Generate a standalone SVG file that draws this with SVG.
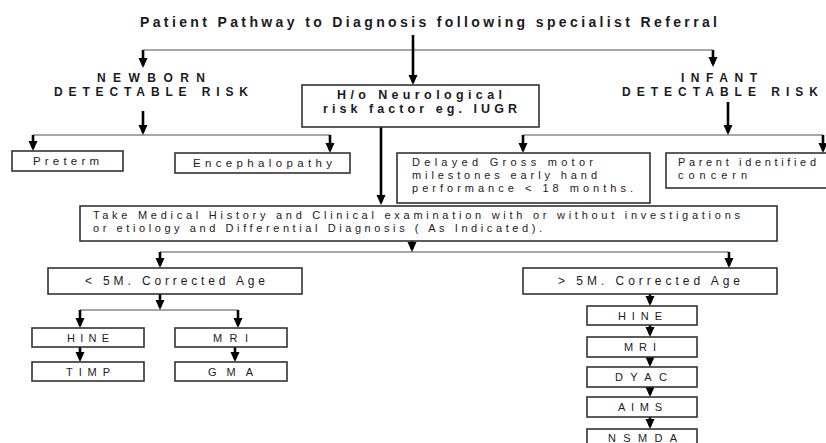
<svg xmlns="http://www.w3.org/2000/svg" width="826" height="443" viewBox="0 0 826 443">
<style>
  .t{font-family:"Liberation Sans",Arial,sans-serif;fill:#1a1a24}
  .b{font-weight:bold}
  .box{fill:#fff;stroke:#333;stroke-width:1.6}
  .arr{fill:none;stroke:#000;stroke-width:2.6}
  .hl{fill:none;stroke:#8a8a8a;stroke-width:1.6}
</style>
<defs>
  <marker id="ah" markerUnits="userSpaceOnUse" markerWidth="10" markerHeight="10" viewBox="0 0 10 10" refX="7" refY="5" orient="auto">
    <path d="M0,0.5 L10,5 L0,9.5 z" fill="#000"/>
  </marker>
</defs>
<rect width="826" height="443" fill="#fff"/>

<g id="title">
  <text class="t b" x="140" y="27" font-size="14" textLength="577" lengthAdjust="spacing">Patient Pathway to Diagnosis following specialist Referral</text>
</g>

<g id="connectors">
  <path class="hl" d="M143,50 H713"/>
  <path class="arr" d="M413,35 V82" marker-end="url(#ah)"/>
  <path class="arr" d="M143,50 V65" marker-end="url(#ah)"/>
  <path class="arr" d="M713,50 V64" marker-end="url(#ah)"/>

  <path class="hl" d="M33,135 H330"/>
  <path class="arr" d="M143,111 V132" marker-end="url(#ah)"/>
  <path class="arr" d="M33,135 V148" marker-end="url(#ah)"/>
  <path class="arr" d="M330,135 V150" marker-end="url(#ah)"/>

  <path class="hl" d="M523,135 H823"/>
  <path class="arr" d="M728,102 V132" marker-end="url(#ah)"/>
  <path class="arr" d="M523,135 V150" marker-end="url(#ah)"/>
  <path class="arr" d="M823,135 V150" marker-end="url(#ah)"/>

  <path class="arr" d="M381,127 V202" marker-end="url(#ah)"/>

  <path class="hl" d="M160,252 H729"/>
  <path class="arr" d="M412,241 V249" marker-end="url(#ah)"/>
  <path class="arr" d="M160,252 V265" marker-end="url(#ah)"/>
  <path class="arr" d="M729,252 V265" marker-end="url(#ah)"/>

  <path class="hl" d="M80,310 H238"/>
  <path class="arr" d="M160,294 V307" marker-end="url(#ah)"/>
  <path class="arr" d="M80,310 V325" marker-end="url(#ah)"/>
  <path class="arr" d="M238,310 V325" marker-end="url(#ah)"/>
  <path class="arr" d="M80,347 V359" marker-end="url(#ah)"/>
  <path class="arr" d="M235,347 V359" marker-end="url(#ah)"/>

  <path class="arr" d="M650,294 V303" marker-end="url(#ah)"/>
  <path class="arr" d="M650,325 V334" marker-end="url(#ah)"/>
  <path class="arr" d="M650,357 V364" marker-end="url(#ah)"/>
  <path class="arr" d="M650,387 V394" marker-end="url(#ah)"/>
  <path class="arr" d="M650,417 V426" marker-end="url(#ah)"/>
</g>

<g id="newborn">
  <text class="t b" x="97" y="82" font-size="12" textLength="108" lengthAdjust="spacing">NEWBORN</text>
  <text class="t b" x="54" y="96" font-size="12" textLength="194" lengthAdjust="spacing">DETECTABLE RISK</text>
</g>

<g id="infant">
  <text class="t b" x="681" y="82" font-size="12" textLength="76" lengthAdjust="spacing">INFANT</text>
  <text class="t b" x="622" y="96" font-size="12" textLength="196" lengthAdjust="spacing">DETECTABLE RISK</text>
</g>

<g id="neuro">
  <rect class="box" x="302" y="85" width="237" height="42"/>
  <text class="t b" x="337" y="98.5" font-size="12.5" textLength="165" lengthAdjust="spacing">H/o Neurological</text>
  <text class="t b" x="323" y="112.5" font-size="12.5" textLength="194" lengthAdjust="spacing">risk factor eg. IUGR</text>
</g>

<g id="preterm">
  <rect class="box" x="12" y="151" width="111" height="20"/>
  <text class="t" x="33" y="165" font-size="11.5" textLength="66" lengthAdjust="spacing">Preterm</text>
</g>

<g id="encephalopathy">
  <rect class="box" x="175" y="153" width="175" height="20"/>
  <text class="t" x="193" y="167" font-size="11.5" textLength="139" lengthAdjust="spacing">Encephalopathy</text>
</g>

<g id="delayed">
  <rect class="box" x="397" y="153" width="253" height="50"/>
  <text class="t" x="412" y="166" font-size="11" textLength="181" lengthAdjust="spacing">Delayed Gross motor</text>
  <text class="t" x="412" y="179" font-size="11" textLength="185" lengthAdjust="spacing">milestones early hand</text>
  <text class="t" x="412" y="192" font-size="11" textLength="221" lengthAdjust="spacing">performance &lt; 18 months.</text>
</g>

<g id="parent">
  <rect class="box" x="666" y="153" width="170" height="35"/>
  <text class="t" x="678" y="165.5" font-size="11" textLength="138" lengthAdjust="spacing">Parent identified</text>
  <text class="t" x="678" y="178.5" font-size="11" textLength="69" lengthAdjust="spacing">concern</text>
</g>

<g id="history">
  <rect class="box" x="80" y="206" width="697" height="35"/>
  <text class="t" x="93" y="218.5" font-size="11" textLength="647" lengthAdjust="spacing">Take Medical History and Clinical examination  with or without investigations</text>
  <text class="t" x="93" y="231.5" font-size="11" textLength="449" lengthAdjust="spacing">or etiology and Differential Diagnosis ( As Indicated).</text>
</g>

<g id="lt5m">
  <rect class="box" x="48" y="268" width="254" height="26"/>
  <text class="t" x="85" y="285" font-size="12" textLength="180" lengthAdjust="spacing">&lt; 5M. Corrected Age</text>
</g>

<g id="gt5m">
  <rect class="box" x="523" y="268" width="254" height="26"/>
  <text class="t" x="558" y="285" font-size="12" textLength="182" lengthAdjust="spacing">&gt; 5M. Corrected Age</text>
</g>

<g id="hine-left">
  <rect class="box" x="32" y="328" width="112" height="19"/>
  <text class="t" x="67" y="342" font-size="11" textLength="42" lengthAdjust="spacing">HINE</text>
</g>
<g id="mri-left">
  <rect class="box" x="175" y="328" width="112" height="19"/>
  <text class="t" x="213" y="342" font-size="11" textLength="35" lengthAdjust="spacing">MRI</text>
</g>
<g id="timp">
  <rect class="box" x="32" y="362" width="112" height="19"/>
  <text class="t" x="66" y="376" font-size="11" textLength="44" lengthAdjust="spacing">TIMP</text>
</g>
<g id="gma">
  <rect class="box" x="175" y="362" width="112" height="19"/>
  <text class="t" x="208" y="376" font-size="11" textLength="45" lengthAdjust="spacing">GMA</text>
</g>

<g id="hine-right">
  <rect class="box" x="587" y="306" width="110" height="19"/>
  <text class="t" x="618" y="320" font-size="11" textLength="44" lengthAdjust="spacing">HINE</text>
</g>
<g id="mri-right">
  <rect class="box" x="587" y="337" width="110" height="20"/>
  <text class="t" x="624" y="351" font-size="11" textLength="32" lengthAdjust="spacing">MRI</text>
</g>
<g id="dyac">
  <rect class="box" x="587" y="367" width="110" height="20"/>
  <text class="t" x="615" y="381" font-size="11" textLength="52" lengthAdjust="spacing">DYAC</text>
</g>
<g id="aims">
  <rect class="box" x="587" y="397" width="110" height="20"/>
  <text class="t" x="618" y="411" font-size="11" textLength="44" lengthAdjust="spacing">AIMS</text>
</g>
<g id="nsmda">
  <rect class="box" x="587" y="429" width="110" height="24"/>
  <text class="t" x="608" y="442" font-size="11" textLength="69" lengthAdjust="spacing">NSMDA</text>
</g>
</svg>
